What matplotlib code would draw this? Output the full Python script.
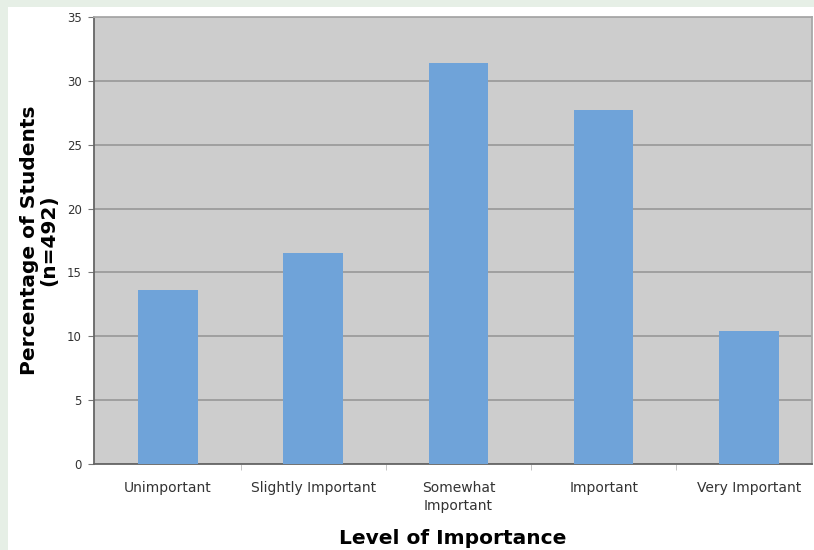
import numpy as np
import matplotlib
matplotlib.use("Agg")
import matplotlib.pyplot as plt
from matplotlib.patches import Rectangle

# Survey responses: share of students per importance rating.
categories = ["Unimportant", "Slightly Important", "Somewhat\nImportant", "Important", "Very Important"]
percentages = [13.6, 16.5, 31.4, 27.7, 10.4]
yTicks = [0, 5, 10, 15, 20, 25, 30, 35]

barColor = "#6fa3d9"
plotColor = "#cdcdcd"
gridColor = "#9c9c9c"
frameColor = "#e6efe6"

figure = plt.figure(figsize=(8.14, 5.5), dpi=100, facecolor=frameColor)

# White panel inside the pale green frame, kept behind the axes.
figure.patches.append(Rectangle((8/814, 0), 1 - 8/814, 1 - 7/550, transform=figure.transFigure,
                                facecolor="white", edgecolor="none", zorder=-10))

axes = figure.add_axes([94/814, 86/550, 718/814, 447/550])
axes.set_facecolor(plotColor)

x = np.arange(len(categories))
axes.bar(x, percentages, width=0.41, color=barColor, zorder=3)

axes.set_yticks(yTicks)
axes.set_yticklabels([str(t) for t in yTicks], fontsize=8.5, color="#333333")
axes.set_xticks(x)
axes.set_xticklabels(categories, fontsize=10, color="#333333", linespacing=1.35)
axes.tick_params(axis="x", length=0, pad=12)
axes.tick_params(axis="y", length=4, color="#777777", pad=5)

# Category boundary ticks along the bottom axis.
axes.set_xticks(np.arange(len(categories) - 1) + 0.5, minor=True)
axes.tick_params(axis="x", which="minor", length=4, color="#bbbbbb")

# Limits go last so the tick calls above do not widen them.
axes.set_ylim(0, 35)
axes.set_xlim(-0.509, 4.434)

axes.yaxis.grid(True, color=gridColor, linewidth=1.3, zorder=1)
axes.set_axisbelow(True)

for side in ["left", "bottom"]:
    axes.spines[side].set_color("#666666")
    axes.spines[side].set_linewidth(1.3)
for side in ["top", "right"]:
    axes.spines[side].set_color("#a8a8a8")
    axes.spines[side].set_linewidth(1.3)

axes.set_xlabel("Level of Importance", fontsize=14.5, fontweight="bold", labelpad=12)
axes.set_ylabel("Percentage of Students\n(n=492)", fontsize=14.5, fontweight="bold", labelpad=6,
                linespacing=1.0)

figure.savefig("out.png", dpi=100, facecolor=frameColor)
